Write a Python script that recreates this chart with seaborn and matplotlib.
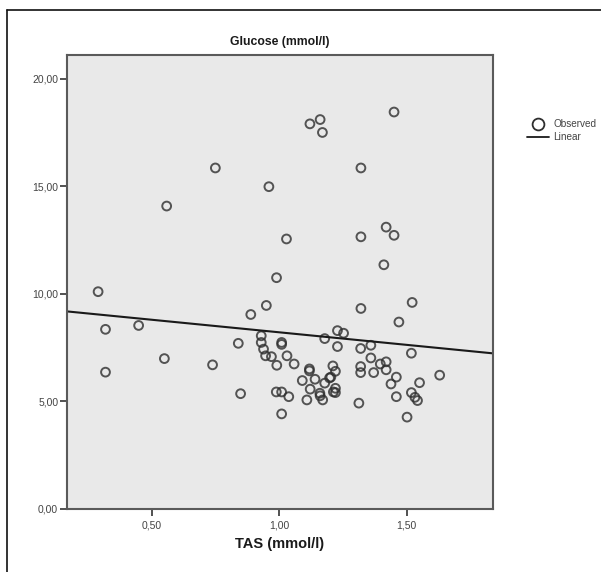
import matplotlib
matplotlib.use("Agg")
import matplotlib.pyplot as plt
import seaborn as sns
import numpy as np
import pandas as pd
from matplotlib.lines import Line2D
from matplotlib.ticker import FuncFormatter
from matplotlib import font_manager

# ---- data ----
tas = [0.749, 0.558, 0.959, 1.120, 1.160, 1.169, 1.028, 0.989, 0.289, 1.450,
       1.320, 1.320, 1.419, 1.450, 1.410, 0.318, 0.318, 0.448, 0.549, 0.738,
       0.839, 0.848, 0.888, 0.949, 1.320, 1.521, 1.469, 1.629,
       0.929, 0.929, 0.938, 0.946, 0.969, 0.990, 1.009, 1.009, 1.030, 1.058,
       1.118, 1.118, 1.090, 1.140, 1.121, 0.988, 1.009, 1.037, 1.009, 1.108,
       1.159, 1.160, 1.170, 1.178, 1.197, 1.202, 1.210, 1.220, 1.220, 1.212,
       1.220, 1.178, 1.228, 1.252, 1.228, 1.319, 1.359, 1.359, 1.319, 1.319,
       1.370, 1.396, 1.419, 1.419, 1.518, 1.459, 1.438, 1.550, 1.459, 1.518,
       1.532, 1.542, 1.312, 1.501]
glucose = [15.85, 14.08, 14.98, 17.90, 18.10, 17.50, 12.55, 10.75, 10.10, 18.45,
           15.85, 12.65, 13.10, 12.72, 11.35, 8.35, 6.36, 8.53, 6.99, 6.70,
           7.70, 5.36, 9.04, 9.46, 9.32, 9.60, 8.69, 6.22,
           8.05, 7.74, 7.43, 7.12, 7.08, 6.68, 7.74, 7.65, 7.12, 6.74,
           6.51, 6.42, 5.97, 6.03, 5.57, 5.44, 5.44, 5.22, 4.42, 5.07,
           5.38, 5.26, 5.07, 5.85, 6.09, 6.13, 6.65, 6.40, 5.61, 5.44,
           5.41, 7.92, 8.29, 8.17, 7.55, 7.46, 7.61, 7.02, 6.62, 6.34,
           6.34, 6.74, 6.84, 6.47, 7.24, 6.13, 5.81, 5.87, 5.22, 5.41,
           5.19, 5.04, 4.92, 4.27]
x_ticks = [0.5, 1.0, 1.5]
y_ticks = [0, 5, 10, 15, 20]
title = "Glucose (mmol/l)"
x_label = "TAS (mmol/l)"
legend_labels = ["Observed", "Linear"]

df = pd.DataFrame({"TAS": tas, "Glucose": glucose})

sns.set_theme(style="white")
plt.rcParams["font.family"] = ["Liberation Sans", "DejaVu Sans"]

installed = {f.name for f in font_manager.fontManager.ttflist}
narrow = ["Liberation Sans Narrow", "Liberation Sans"] if "Liberation Sans Narrow" in installed \
    else ["Liberation Sans", "DejaVu Sans"]

fig = plt.figure(figsize=(6.01, 5.72), dpi=100)
ax = fig.add_axes([67 / 601, 1 - 509 / 572, (492.7 - 67) / 601, (509 - 55) / 572])
ax.set_facecolor("#e9e9e9")
ax.set_xlim(0.167, 1.837)
ax.set_ylim(0, 21.1)

sns.regplot(data=df, x="TAS", y="Glucose", ax=ax, ci=None, truncate=False,
            scatter_kws=dict(s=40, facecolors="none", edgecolors="#2e2e2e",
                             linewidths=1.4),
            line_kws=dict(color="#1a1a1a", lw=1.5))
ax.set_xlim(0.167, 1.837)
ax.set_ylim(0, 21.1)

ax.set_xticks(x_ticks)
ax.set_yticks(y_ticks)
fmt = FuncFormatter(lambda v, p: f"{v:.2f}".replace(".", ","))
ax.xaxis.set_major_formatter(fmt)
ax.yaxis.set_major_formatter(fmt)
ax.tick_params(axis="both", which="major", direction="out", length=4.8, width=1.2,
               color="#333333", labelsize=7.5, labelcolor="#444444", pad=1.5,
               left=True, bottom=True)
ax.tick_params(axis="x", pad=3.5)
for lab in ax.get_xticklabels() + ax.get_yticklabels():
    lab.set_family(narrow)

for s in ax.spines.values():
    s.set_color("#5a5a5a")
    s.set_linewidth(1.5)

ax.set_xlabel(x_label, fontsize=10.5, fontweight="bold", color="#1a1a1a", labelpad=5)
ax.set_ylabel("")
ax.set_title(title, fontsize=8.8, fontweight="bold", color="#1a1a1a", pad=7.5)

handles = [Line2D([], [], marker="o", linestyle="none", markerfacecolor="none",
                  markeredgecolor="#2e2e2e", markersize=8.5, markeredgewidth=1.3),
           Line2D([], [], color="#1a1a1a", lw=1.3)]
leg = fig.legend(handles, legend_labels, loc="upper left",
                 bbox_to_anchor=(518 / 601, 1 - 110 / 572), frameon=False,
                 prop=dict(family=narrow, size=7.2), handlelength=2.2,
                 handletextpad=0.45, labelspacing=0.35, labelcolor="#444444")

# outer frame of the original export (left and top edges)
fig.add_artist(Line2D([7 / 601, 7 / 601], [0, 1 - 10 / 572],
                      transform=fig.transFigure, color="#111111", lw=1.2))
fig.add_artist(Line2D([7 / 601, 1], [1 - 10 / 572, 1 - 10 / 572],
                      transform=fig.transFigure, color="#111111", lw=1.2))

fig.savefig("out.png", dpi=100)
